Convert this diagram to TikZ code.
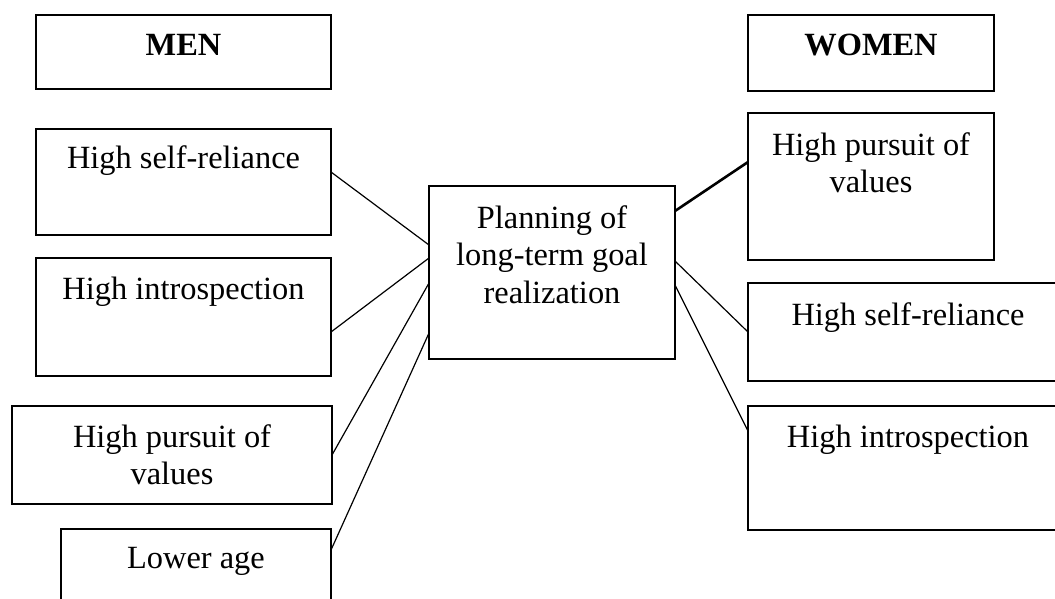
\documentclass[tikz,border=0pt]{standalone}
\usepackage{fontspec}
\setmainfont{Liberation Serif}
\begin{document}
\begin{tikzpicture}[x=1pt,y=-1pt,
  box/.style={draw,line width=1.5pt,anchor=north west,inner sep=0pt,outer sep=0pt},
  lbl/.style={anchor=base,inner sep=0pt,font=\fontsize{32.4}{37.5}\selectfont},
  conn/.style={line width=1.2pt},
  thickconn/.style={line width=2.6pt}]
\useasboundingbox (0,0) rectangle (1055,598);
\clip (0,0) rectangle (1055,598);
% boxes
\node[box,minimum width=295pt,minimum height=74pt] (men) at (36,15) {};
\node[box,minimum width=295pt,minimum height=106pt] (ms) at (36,129) {};
\node[box,minimum width=295pt,minimum height=118pt] (mi) at (36,258) {};
\node[box,minimum width=320pt,minimum height=98pt] (mp) at (12,406) {};
\node[box,minimum width=270pt,minimum height=80pt] (ml) at (61,529) {};
\node[box,minimum width=246pt,minimum height=173pt] (c) at (429,186) {};
\node[box,minimum width=246pt,minimum height=76pt] (women) at (748,15) {};
\node[box,minimum width=246pt,minimum height=147pt] (wp) at (748,113) {};
\node[box,minimum width=320pt,minimum height=98pt] (ws) at (748,283) {};
\node[box,minimum width=320pt,minimum height=124pt] (wi) at (748,406) {};
% labels
\node[lbl,font=\fontsize{32.4}{37.5}\selectfont\bfseries] (tmen) at (183.5,55) {MEN};
\node[lbl,font=\fontsize{32.4}{37.5}\selectfont\bfseries] (twomen) at (871,55) {WOMEN};
\node[lbl] (tms) at (183.5,168) {High self-reliance};
\node[lbl] (tmi) at (183.5,299) {High introspection};
\node[lbl] (tmp) at (172,447) {\begin{tabular}[t]{@{}c@{}}High pursuit of\\values\end{tabular}};
\node[lbl] (tml) at (196,568) {Lower age};
\node[lbl] (tc) at (552,228) {\begin{tabular}[t]{@{}c@{}}Planning of\\long-term goal\\realization\end{tabular}};
\node[lbl] (twp) at (871,155) {\begin{tabular}[t]{@{}c@{}}High pursuit of\\values\end{tabular}};
\node[lbl] (tws) at (908,325) {High self-reliance};
\node[lbl] (twi) at (908,447) {High introspection};
% connectors
\draw[conn] ([yshift=-43pt]ms.north east) -- ([yshift=-59pt]c.north west);
\draw[conn] ([yshift=-74pt]mi.north east) -- ([yshift=-72pt]c.north west);
\draw[conn] ([yshift=-49pt]mp.north east) -- ([yshift=-97pt]c.north west);
\draw[conn] ([yshift=-21pt]ml.north east) -- ([yshift=-147pt]c.north west);
\draw[thickconn] ([yshift=-25pt]c.north east) -- ([yshift=-49pt]wp.north west);
\draw[conn] ([yshift=-75pt]c.north east) -- ([yshift=-49pt]ws.north west);
\draw[conn] ([yshift=-99pt]c.north east) -- ([yshift=-25pt]wi.north west);
\end{tikzpicture}
\end{document}
